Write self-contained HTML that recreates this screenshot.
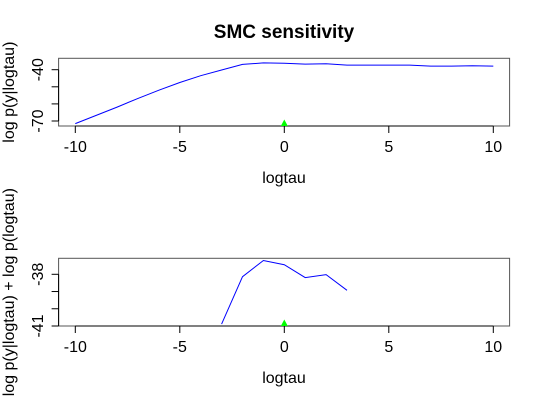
<!DOCTYPE html>
<html><head><meta charset="utf-8"><style>
body{margin:0;background:#fff}
text{font-family:"Liberation Sans",sans-serif;fill:#000}
</style></head><body>
<svg id="c" width="540" height="400" xmlns="http://www.w3.org/2000/svg">
<text x="284" y="38" font-size="19" font-weight="bold" text-anchor="middle">SMC sensitivity</text>
</svg>
<script>
const xTicks=[-10,-5,0,5,10];
const topX=[-10,-9,-8,-7,-6,-5,-4,-3,-2,-1,0,1,2,3,4,5,6,7,8,9,10];
const topY=[-71.5,-66.7,-61.9,-56.8,-52.0,-47.5,-43.5,-40.2,-36.9,-36.0,-36.2,-36.7,-36.5,-37.3,-37.3,-37.3,-37.3,-37.9,-37.9,-37.7,-37.9];
const topYTicks=[-40,-50,-60,-70];
const topYLabels=[-40,-70];
const botX=[-3,-2,-1,0,1,2,3];
const botY=[-40.89,-38.14,-37.2,-37.44,-38.19,-38.02,-38.93];
const botYTicks=[-38,-39,-40,-41];
const botYLabels=[-38,-41];
const trueTau=[0];
const NS="http://www.w3.org/2000/svg";
const svg=document.getElementById('c');
function mk(tag,attrs,parent){const e=document.createElementNS(NS,tag);for(const k in attrs)e.setAttribute(k,attrs[k]);(parent||svg).appendChild(e);return e;}
function panel(o){
  const g=mk('g',{});
  
  
  const sx=v=>75.3+(v+10)*20.9;
  const sy=v=>o.y0+(v-o.v0)*o.k;
  const r=mk('rect',{x:58.6,y:o.top,width:451,height:o.bot-o.top,fill:'none',stroke:'#555','stroke-width':1},g);
  
  
  const ax=mk('line',{x1:sx(-10),x2:sx(10),y1:o.bot,y2:o.bot,stroke:'#000'},g);
  
  
  xTicks.forEach(t=>{
    mk('line',{x1:sx(t),x2:sx(t),y1:o.bot,y2:o.bot+7,stroke:'#000'},g);
    const tx=mk('text',{x:sx(t),y:o.bot+26,'font-size':16,'text-anchor':'middle'},g);
    tx.textContent=t;
    
    
  });
  const yl=mk('line',{x1:58.6,x2:58.6,y1:sy(o.yt[0]),y2:sy(o.yt[o.yt.length-1]),stroke:'#000'},g);
  
  
  o.yt.forEach(t=>mk('line',{x1:51.6,x2:58.6,y1:sy(t),y2:sy(t),stroke:'#000'},g));
  o.yl.forEach(t=>{
    const tx=mk('text',{x:0,y:0,'font-size':16,'text-anchor':'middle',transform:`translate(43,${sy(t)}) rotate(-90)`},g);
    tx.textContent=t;
    
    
  });
  const xt=mk('text',{x:284,y:o.bot+57,'font-size':16,'text-anchor':'middle'},g);
  xt.textContent='logtau';
  
  
  const yt=mk('text',{x:0,y:0,'font-size':16,'text-anchor':'middle',transform:`translate(14,${(o.top+o.bot)/2}) rotate(-90)`},g);
  yt.textContent=o.ylab;
  
  
  const pts=o.xs.map((x,i)=>sx(x).toFixed(1)+','+sy(o.ys[i]).toFixed(1)).join(' ');
  const pl=mk('polyline',{points:pts,fill:'none',stroke:'#00f','stroke-width':1},g);
  
  
  trueTau.forEach(t=>{
    const cx=sx(t),cy=o.bot-3;
    const tri=mk('polygon',{points:`${cx-3.5},${cy+3} ${cx+3.5},${cy+3} ${cx},${cy-3.5}`,fill:'#0f0'},g);
    
    
  });
}
panel({name:'top-panel',top:58.3,bot:126,y0:69.7,v0:-40,k:-1.71,yt:topYTicks,yl:topYLabels,xs:topX,ys:topY,ylab:'log p(y|logtau)'});
panel({name:'bottom-panel',top:258.3,bot:326,y0:274.3,v0:-38,k:-17.23,yt:botYTicks,yl:botYLabels,xs:botX,ys:botY,ylab:'log p(y|logtau) + log p(logtau)'});
</script>
</body></html>
